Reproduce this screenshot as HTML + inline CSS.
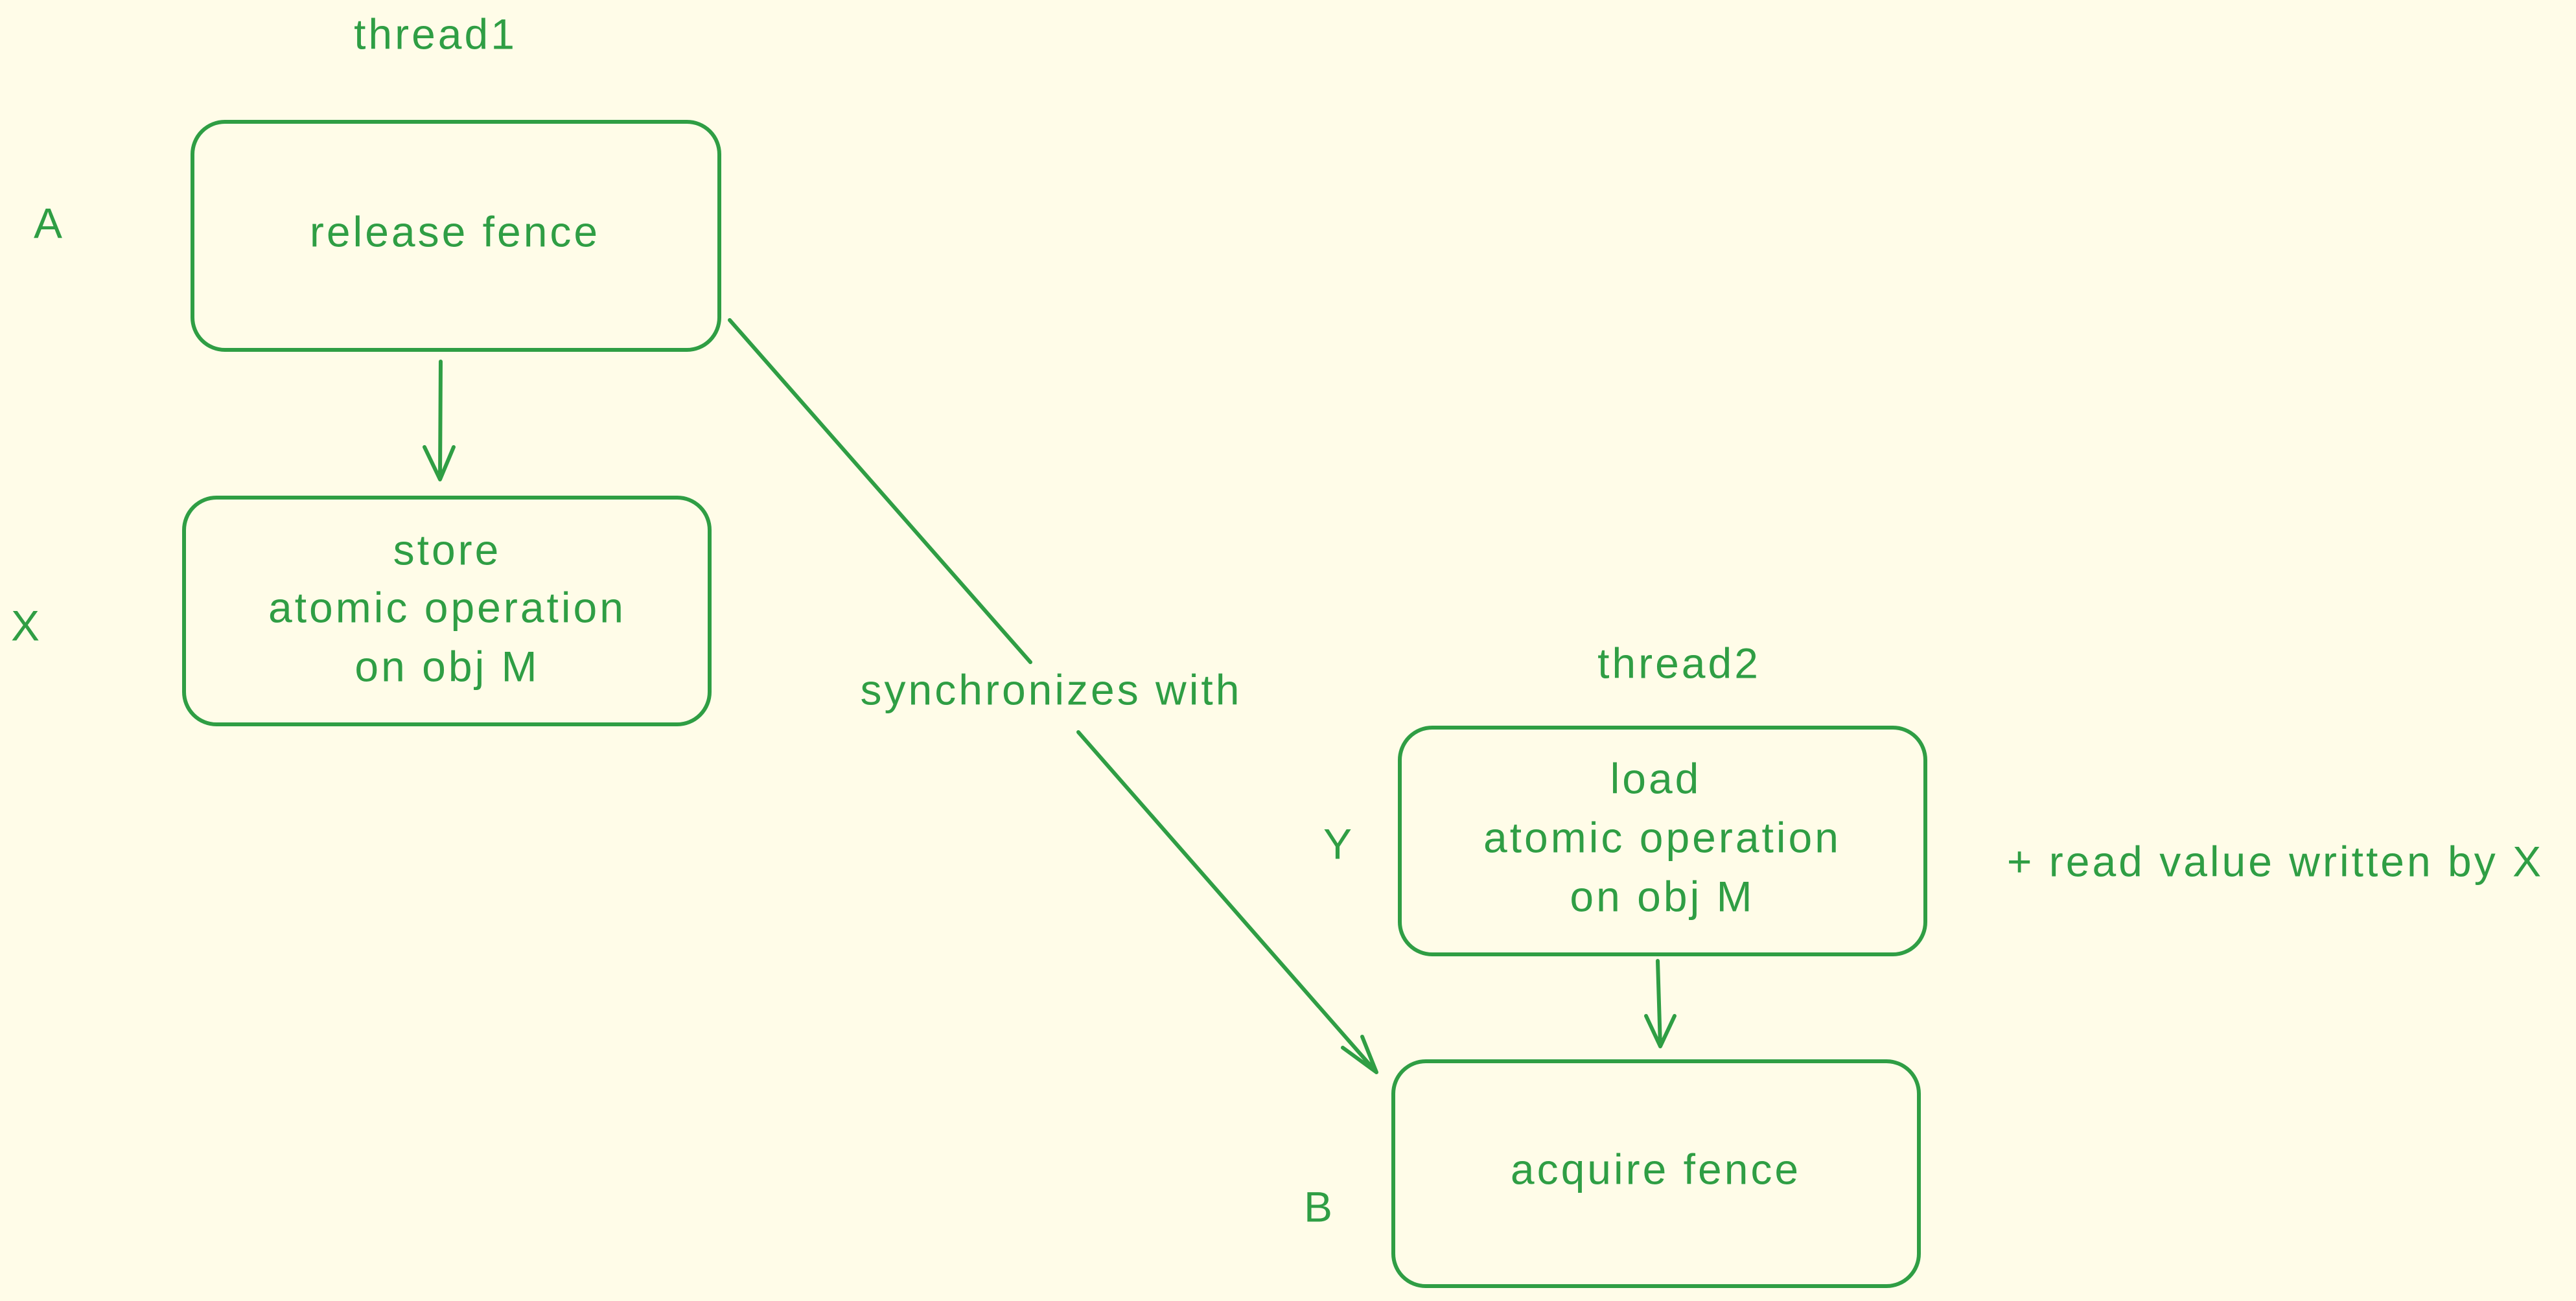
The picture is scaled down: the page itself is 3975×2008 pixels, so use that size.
<!DOCTYPE html>
<html><head><meta charset="utf-8"><style>
html,body{margin:0;padding:0;background:#fffce8;}
svg{display:block;}
text{font-family:"Liberation Sans",sans-serif;fill:#2f9e44;font-size:66px;letter-spacing:4px;text-anchor:middle;dominant-baseline:middle;}
</style></head><body>
<svg width="3975" height="2008" viewBox="0 0 3975 2008" xmlns="http://www.w3.org/2000/svg">
<rect width="3975" height="2008" fill="#fffce8"/>
<g fill="none" stroke="#2f9e44" stroke-width="6" stroke-linecap="round" stroke-linejoin="round">
<rect x="297" y="188" width="813" height="352" rx="50"/>
<rect x="284" y="768" width="811" height="350" rx="50"/>
<rect x="2160" y="1123" width="811" height="350" rx="50"/>
<rect x="2150" y="1638" width="811" height="347" rx="50"/>
<path d="M680 558 L679 740 M655 690 L679 740 L700 690"/>
<path d="M2558 1483 L2562 1615 M2540 1568 L2562 1615 L2584 1568"/>
<path d="M1126 494 L1590 1022 M1664 1130 L2124 1655 M2072 1617 L2124 1655 L2102 1600"/>
</g>
<text x="672" y="58">thread1</text>
<text x="702" y="363">release fence</text>
<text x="76" y="350">A</text>
<text x="41" y="971">X</text>
<text x="690" y="854">store</text>
<text x="690" y="943">atomic operation</text>
<text x="690" y="1034">on obj M</text>
<text x="1622" y="1070">synchronizes with</text>
<text x="2591" y="1029">thread2</text>
<text x="2066" y="1308">Y</text>
<text x="2555" y="1207">load</text>
<text x="2565" y="1298">atomic operation</text>
<text x="2565" y="1389">on obj M</text>
<text x="3511" y="1335">+ read value written by X</text>
<text x="2555" y="1810">acquire fence</text>
<text x="2036" y="1868">B</text>
</svg>
</body></html>
